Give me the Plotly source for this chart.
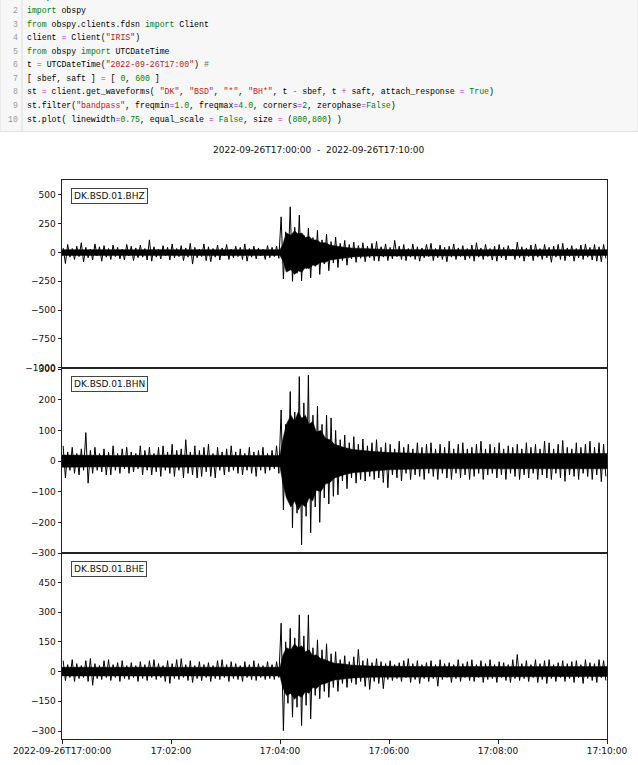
import numpy as np
import plotly.graph_objects as go

# ---------------- data ----------------
BIN_S = 5.0  # seconds per min/max envelope bin, 120 bins = 600 s
station_labels = ["DK.BSD.01.BHZ", "DK.BSD.01.BHN", "DK.BSD.01.BHE"]

# per-bin peak maxima / minima (spikes)
bhz_hi = [40, 70, 35, 55, 85, 45, 30, 75, 50, 60,
          35, 65, 45, 30, 70, 55, 40, 65, 35, 110,
          50, 30, 60, 45, 75, 35, 60, 40, 80, 45,
          30, 75, 50, 35, 65, 40, 70, 30, 55, 45,
          75, 35, 55, 40, 30, 60, 45, 55, 310, 180,
          397, 220, 325, 150, 213, 130, 193, 110, 160, 95,
          134, 80, 105, 70, 90, 60, 85, 55, 80, 96,
          50, 75, 45, 105, 55, 70, 35, 75, 50, 40,
          70, 80, 35, 65, 45, 55, 75, 40, 60, 35,
          65, 85, 40, 70, 35, 55, 70, 45, 60, 30,
          90, 50, 40, 65, 75, 35, 70, 45, 55, 70,
          80, 40, 60, 35, 65, 75, 45, 70, 50, 70]
bhz_lo = [-95, -40, -60, -35, -80, -45, -65, -30, -75, -40,
          -60, -35, -55, -65, -30, -70, -45, -40, -65, -75,
          -40, -55, -30, -65, -45, -35, -70, -40, -100, -45,
          -35, -70, -80, -40, -65, -30, -60, -45, -35, -60,
          -75, -40, -55, -30, -60, -45, -35, -50, -230, -150,
          -250, -180, -245, -140, -220, -120, -190, -100, -158, -90,
          -130, -70, -110, -55, -85, -50, -80, -45, -70, -75,
          -40, -70, -55, -35, -60, -70, -40, -60, -75, -45,
          -35, -70, -45, -60, -80, -40, -60, -35, -65, -50,
          -75, -40, -60, -35, -65, -75, -45, -65, -30, -60,
          -45, -75, -35, -70, -40, -60, -45, -85, -40, -60,
          -70, -35, -75, -45, -60, -40, -65, -75, -80, -50]

bhn_hi = [50, 30, 45, 25, 40, 93, 35, 45, 25, 40,
          30, 50, 25, 40, 45, 30, 25, 50, 35, 45,
          25, 45, 50, 30, 55, 35, 40, 70, 30, 50,
          35, 45, 55, 25, 45, 30, 40, 50, 30, 40,
          25, 45, 30, 35, 45, 25, 35, 50, 167, 120,
          227, 160, 276, 190, 281, 150, 180, 120, 150, 141,
          100, 70, 85, 60, 80, 55, 72, 50, 60, 70,
          45, 60, 55, 40, 65, 45, 55, 40, 60, 45,
          55, 60, 40, 55, 45, 65, 40, 55, 60, 40,
          45, 55, 65, 40, 55, 45, 60, 40, 50, 45,
          55, 40, 60, 45, 55, 40, 65, 60, 40, 55,
          67, 45, 40, 60, 45, 55, 65, 45, 60, 55]
bhn_lo = [-55, -30, -40, -45, -30, -72, -40, -30, -35, -45,
          -45, -30, -40, -25, -40, -35, -25, -45, -30, -45,
          -35, -50, -30, -40, -50, -30, -55, -40, -45, -55,
          -50, -35, -50, -55, -30, -45, -35, -30, -40, -45,
          -30, -40, -50, -30, -40, -30, -25, -40, -159, -120,
          -218, -170, -273, -180, -234, -150, -200, -120, -140, -115,
          -110, -65, -90, -55, -72, -60, -65, -50, -60, -55,
          -70, -87, -45, -55, -65, -40, -60, -45, -50, -60,
          -40, -50, -60, -40, -55, -60, -40, -55, -45, -60,
          -50, -40, -60, -45, -40, -55, -45, -60, -40, -50,
          -60, -45, -55, -40, -60, -45, -55, -60, -40, -55,
          -66, -45, -50, -60, -40, -50, -60, -45, -67, -50]

bhe_hi = [55, 35, 60, 40, 30, 55, 66, 40, 30, 55,
          60, 35, 45, 55, 30, 45, 30, 50, 35, 55,
          60, 40, 30, 55, 40, 60, 65, 35, 55, 30,
          50, 35, 45, 30, 55, 60, 35, 50, 40, 30,
          50, 35, 55, 40, 30, 50, 35, 50, 244, 150,
          218, 170, 286, 180, 286, 120, 160, 110, 140, 90,
          100, 60, 80, 50, 75, 112, 55, 65, 45, 65,
          50, 40, 55, 35, 45, 55, 65, 40, 55, 35,
          45, 55, 35, 60, 40, 45, 35, 60, 40, 50,
          60, 35, 55, 40, 60, 35, 50, 45, 35, 60,
          86, 40, 55, 35, 60, 40, 55, 60, 35, 45,
          55, 40, 50, 55, 35, 60, 45, 40, 60, 55]
bhe_lo = [-45, -30, -50, -35, -30, -50, -69, -35, -40, -30,
          -45, -30, -50, -35, -40, -30, -50, -35, -45, -30,
          -40, -30, -50, -60, -35, -40, -30, -45, -55, -35,
          -45, -30, -50, -35, -40, -30, -50, -35, -40, -50,
          -30, -40, -45, -30, -40, -35, -40, -30, -298, -160,
          -230, -180, -272, -170, -239, -120, -137, -100, -130, -80,
          -100, -60, -80, -55, -65, -50, -75, -90, -50, -60,
          -86, -40, -45, -35, -50, -30, -55, -40, -60, -35,
          -50, -35, -74, -40, -30, -55, -35, -50, -30, -45,
          -50, -30, -55, -40, -35, -55, -30, -45, -55, -35,
          -45, -35, -50, -30, -55, -40, -60, -35, -50, -30,
          -50, -35, -55, -30, -60, -35, -45, -55, -30, -45]

# solid core of each trace (half-width of the densely filled band), at knot times
core_times = [0, 60, 120, 180, 240, 243, 247, 252, 256, 260, 264, 268, 272, 276, 280,
              285, 290, 295, 300, 310, 320, 340, 360, 400, 450, 500, 550, 600]
bhz_core = [25, 25, 25, 25, 25, 70, 170, 150, 190, 160, 170, 130, 140, 110, 110,
            85, 85, 65, 58, 47, 38, 30, 27, 25, 25, 25, 25, 25]
bhn_core = [20, 18, 20, 18, 18, 70, 120, 150, 130, 160, 140, 150, 120, 130, 95,
            100, 75, 70, 55, 45, 38, 32, 28, 25, 25, 25, 25, 25]
bhe_core = [22, 22, 22, 22, 22, 80, 120, 110, 140, 120, 130, 100, 110, 80, 85,
            65, 60, 50, 42, 38, 32, 28, 26, 25, 25, 25, 25, 25]

x_tick_vals = [0, 120, 240, 360, 480, 600]
x_tick_text = ["2022-09-26T17:00:00", "17:02:00", "17:04:00", "17:06:00", "17:08:00", "17:10:00"]

y_ticks = [
    [-1000, -750, -500, -250, 0, 250, 500],
    [-300, -200, -100, 0, 100, 200, 300],
    [-300, -150, 0, 150, 300, 450],
]
y_ranges = [[-1000, 630], [-300, 305], [-340, 598]]

title_text = "2022-09-26T17:00:00\u00a0\u00a0-\u00a0\u00a02022-09-26T17:10:00"

# ---------------- figure ----------------
W, H = 638, 765
def px_x(x):
    return x / W
def px_y(y):
    return 1 - y / H

fig = go.Figure()

series = [(bhz_hi, bhz_lo, bhz_core), (bhn_hi, bhn_lo, bhn_core), (bhe_hi, bhe_lo, bhe_core)]
for k, (hi, lo, core) in enumerate(series):
    assert len(hi) == len(lo) == 120
    assert len(core) == len(core_times)
    suffix = "" if k == 0 else str(k + 1)
    ct = np.array(core_times, dtype=float)
    cv = np.array(core, dtype=float)
    fig.add_trace(go.Scatter(x=np.concatenate([ct, ct[::-1]]),
                             y=np.concatenate([cv, -cv[::-1]]),
                             mode="lines", fill="toself", fillcolor="black",
                             line=dict(color="black", width=0.5),
                             xaxis="x" + suffix, yaxis="y" + suffix,
                             hoverinfo="skip", showlegend=False))
    t0 = np.arange(len(hi)) * BIN_S
    xs = np.empty(2 * len(hi))
    ys = np.empty(2 * len(hi))
    xs[0::2] = t0 + 1.25
    xs[1::2] = t0 + 3.75
    ys[0::2] = hi
    ys[1::2] = lo
    fig.add_trace(go.Scatter(x=xs, y=ys, mode="lines",
                             line=dict(color="black", width=1.0),
                             xaxis="x" + suffix, yaxis="y" + suffix,
                             hoverinfo="skip", showlegend=False))

panel_tops = [180, 367.7, 553]
panel_bots = [367.7, 553, 739]
tick_font = dict(family="DejaVu Sans", size=9, color="#111")
layout = dict(width=W, height=H, autosize=False,
              margin=dict(l=0, r=0, t=0, b=0, autoexpand=False),
              paper_bgcolor="white", plot_bgcolor="white",
              showlegend=False)
for k in range(3):
    suffix = "" if k == 0 else str(k + 1)
    ax = dict(domain=[px_x(62), px_x(607)], range=[0, 600], automargin=False,
              showline=True, mirror=True, linecolor="#222", linewidth=1,
              showgrid=False, zeroline=False,
              anchor="y" + suffix, fixedrange=True)
    if k == 2:
        ax.update(tickmode="array", tickvals=x_tick_vals, ticktext=x_tick_text,
                  ticks="outside", ticklen=3.5, tickwidth=0.8, tickcolor="#222",
                  tickfont=tick_font)
    else:
        ax.update(showticklabels=False, ticks="")
    ay = dict(domain=[px_y(panel_bots[k]), px_y(panel_tops[k])], range=y_ranges[k],
              automargin=False,
              showline=True, mirror=True, linecolor="#222", linewidth=1,
              showgrid=False, zeroline=False, anchor="x" + suffix,
              tickmode="array", tickvals=y_ticks[k],
              ticktext=[str(v).replace("-", "\u2212") for v in y_ticks[k]],
              ticks="outside", ticklen=3.5, tickwidth=0.8, tickcolor="#222",
              tickfont=tick_font, fixedrange=True)
    layout["xaxis" + suffix] = ax
    layout["yaxis" + suffix] = ay
fig.update_layout(**layout)

annotations = []
for k, lab in enumerate(station_labels):
    annotations.append(dict(text=lab, xref="paper", yref="paper",
                            x=px_x(71), y=px_y(panel_tops[k] + 8), xanchor="left", yanchor="top",
                            showarrow=False, font=dict(family="DejaVu Sans", size=9, color="#111"),
                            bgcolor="white", bordercolor="#444", borderwidth=1, borderpad=2))
annotations.append(dict(text=title_text, xref="paper", yref="paper", x=px_x(318), y=px_y(150),
                        xanchor="center", yanchor="middle", showarrow=False,
                        font=dict(family="DejaVu Sans", size=9, color="#111")))

K = "#008000"; S = "#ba2121"; N = "#008000"; O = "#aa22ff"; C = "#408080"
def c(txt, col):
    return "<span style='color:%s'>%s</span>" % (col, txt)
code_lines = [
    "%matplotlib inline",
    c("import", K) + " obspy",
    c("from", K) + " obspy.clients.fdsn " + c("import", K) + " Client",
    "client " + c("=", O) + " Client(" + c('"IRIS"', S) + ")",
    c("from", K) + " obspy " + c("import", K) + " UTCDateTime",
    "t " + c("=", O) + " UTCDateTime(" + c('"2022-09-26T17:00"', S) + ") " + c("#", C),
    "[ sbef, saft ] " + c("=", O) + " [ " + c("0", N) + ", " + c("600", N) + " ]",
    "st " + c("=", O) + " client.get_waveforms( " + c('"DK"', S) + ", " + c('"BSD"', S) + ", "
    + c('"*"', S) + ", " + c('"BH*"', S) + ", t " + c("-", O) + " sbef, t " + c("+", O)
    + " saft, attach_response " + c("=", O) + " " + c("True", K) + ")",
    "st.filter(" + c('"bandpass"', S) + ", freqmin" + c("=", O) + c("1.0", N) + ", freqmax"
    + c("=", O) + c("4.0", N) + ", corners" + c("=", O) + c("2", N) + ", zerophase"
    + c("=", O) + c("False", K) + ")",
    "st.plot( linewidth" + c("=", O) + c("0.75", N) + ", equal_scale " + c("=", O) + " "
    + c("False", K) + ", size " + c("=", O) + " (" + c("800", N) + "," + c("800", N) + ") )",
]
for i, line in enumerate(code_lines):
    yc = 10.5 + 13.57 * (i - 1)
    annotations.append(dict(text=str(i + 1), xref="paper", yref="paper", x=px_x(20), y=px_y(yc),
                            xanchor="right", yanchor="middle", showarrow=False,
                            font=dict(family="Liberation Mono", size=8.2, color="#999")))
    annotations.append(dict(text=line, xref="paper", yref="paper", x=px_x(25), y=px_y(yc),
                            xanchor="left", yanchor="middle", showarrow=False, align="left",
                            font=dict(family="Liberation Mono", size=8.2, color="#000")))
fig.update_layout(annotations=annotations)

fig.update_layout(shapes=[
    dict(type="rect", xref="paper", yref="paper", x0=0, x1=1, y0=px_y(131.5), y1=1.01,
         fillcolor="#f7f7f7", line=dict(color="#e0e0e0", width=1), layer="below"),
    dict(type="line", xref="paper", yref="paper", x0=px_x(22), x1=px_x(22), y0=px_y(131.5), y1=1,
         line=dict(color="#dddddd", width=1), layer="below"),
])

fig.write_html("out.html", config={"displayModeBar": False},
               post_script="document.body.style.margin='0';document.body.style.overflow='hidden';")
